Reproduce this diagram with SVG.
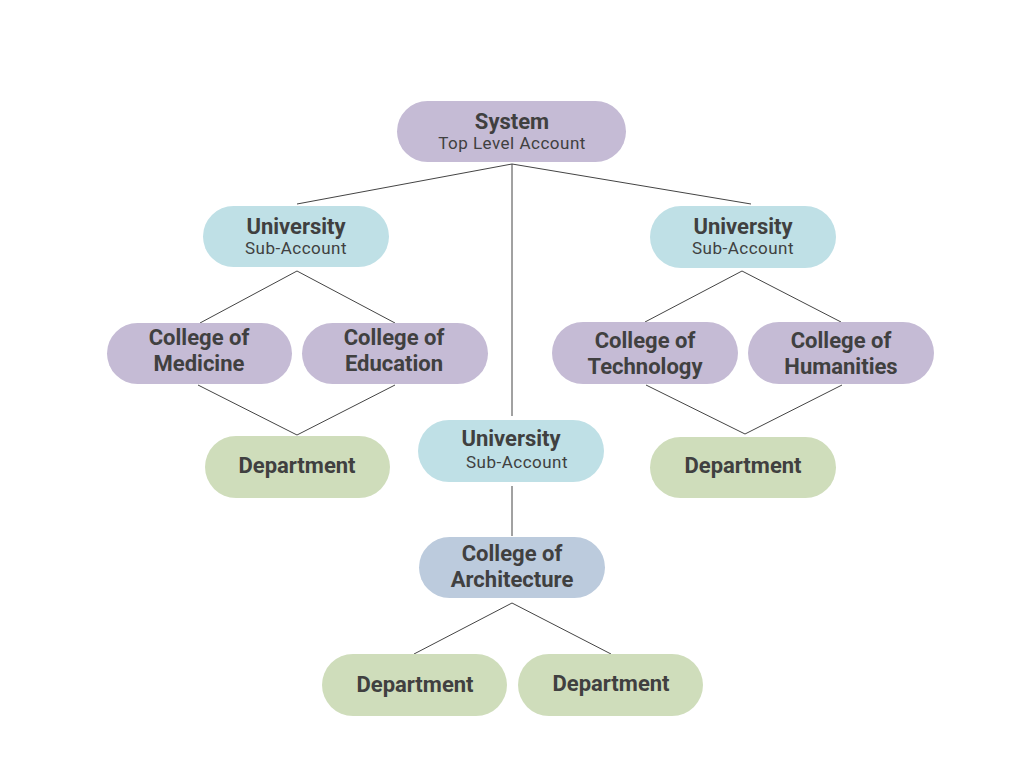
<svg xmlns="http://www.w3.org/2000/svg" width="1024" height="768" viewBox="0 0 1024 768">
<style>
.t{font-family:Roboto,"Liberation Sans",sans-serif;fill:#404040;text-anchor:middle}
.b{font-weight:bold;font-size:22px}
.s{font-size:17px;letter-spacing:0.5px}
.purple{fill:#c5bbd5}
.cyan{fill:#bfe0e6}
.green{fill:#cfddbb}
.slate{fill:#bccbdd}
.c line{stroke:#444;stroke-width:1}
</style>
<rect width="1024" height="768" fill="#fff"/>
<g class="c" id="connectors">
<line x1="512" y1="164" x2="297" y2="204"/>
<line x1="512" y1="164" x2="751" y2="204"/>
<line x1="512" y1="164" x2="512" y2="416"/>
<line x1="297" y1="271" x2="200" y2="323"/>
<line x1="297" y1="271" x2="395" y2="323"/>
<line x1="198" y1="385" x2="297" y2="435"/>
<line x1="395" y1="385" x2="297" y2="435"/>
<line x1="742" y1="271" x2="645" y2="322"/>
<line x1="742" y1="271" x2="841" y2="322"/>
<line x1="646" y1="385" x2="745" y2="434"/>
<line x1="842" y1="385" x2="745" y2="434"/>
<line x1="512" y1="486" x2="512" y2="536"/>
<line x1="512" y1="603" x2="414" y2="654"/>
<line x1="512" y1="603" x2="611" y2="654"/>
</g>
<g id="system"><rect class="purple" x="397" y="101" width="229" height="61" rx="30.5"/><text class="t b" x="512" y="129">System</text><text class="t s" x="512" y="149">Top Level Account</text></g>
<g id="univ-left"><rect class="cyan" x="203" y="206" width="186" height="61" rx="30.5"/><text class="t b" x="296" y="234">University</text><text class="t s" x="296" y="254">Sub-Account</text></g>
<g id="univ-right"><rect class="cyan" x="650" y="206" width="186" height="62" rx="31"/><text class="t b" x="743" y="234">University</text><text class="t s" x="743" y="254">Sub-Account</text></g>
<g id="medicine"><rect class="purple" x="107" y="323" width="185" height="61" rx="30.5"/><text class="t b" x="199" y="345">College of</text><text class="t b" x="199" y="371">Medicine</text></g>
<g id="education"><rect class="purple" x="302" y="323" width="186" height="61" rx="30.5"/><text class="t b" x="394" y="345">College of</text><text class="t b" x="394" y="371">Education</text></g>
<g id="technology"><rect class="purple" x="552" y="322" width="186" height="62" rx="31"/><text class="t b" x="645" y="348">College of</text><text class="t b" x="645" y="374">Technology</text></g>
<g id="humanities"><rect class="purple" x="748" y="322" width="186" height="62" rx="31"/><text class="t b" x="841" y="348">College of</text><text class="t b" x="841" y="374">Humanities</text></g>
<g id="dept-left"><rect class="green" x="205" y="436" width="185" height="62" rx="31"/><text class="t b" x="297" y="473">Department</text></g>
<g id="dept-right"><rect class="green" x="650" y="437" width="186" height="61" rx="30.5"/><text class="t b" x="743" y="473">Department</text></g>
<g id="univ-mid"><rect class="cyan" x="418" y="420" width="186" height="62" rx="31"/><text class="t b" x="511" y="446">University</text><text class="t s" x="517" y="468">Sub-Account</text></g>
<g id="architecture"><rect class="slate" x="419" y="537" width="186" height="61" rx="30.5"/><text class="t b" x="512" y="561">College of</text><text class="t b" x="512" y="587">Architecture</text></g>
<g id="dept-bl"><rect class="green" x="322" y="654" width="185" height="62" rx="31"/><text class="t b" x="415" y="692">Department</text></g>
<g id="dept-br"><rect class="green" x="518" y="654" width="185" height="62" rx="31"/><text class="t b" x="611" y="691">Department</text></g>
</svg>
